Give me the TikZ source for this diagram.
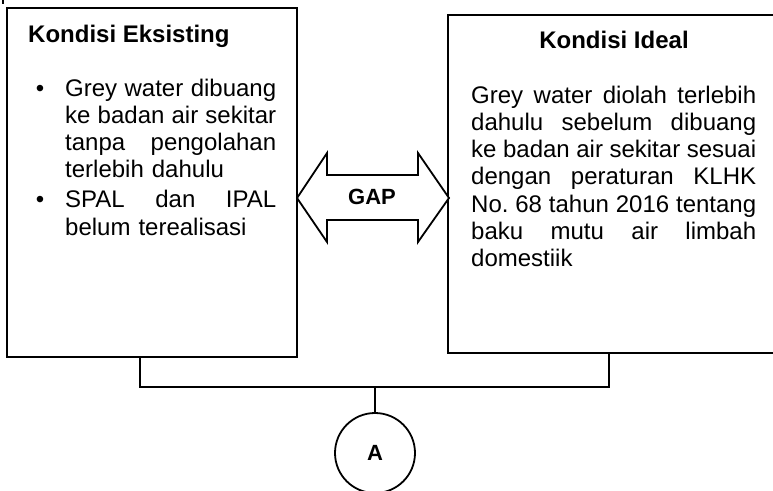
\documentclass[tikz,border=0pt]{standalone}
\usepackage{fontspec}
\setmainfont{Liberation Sans}
% justified single lines of fixed width (font interword glue restored)
\newcommand\jl[1]{\leavevmode\hbox to 211pt{\spaceskip=0pt\xspaceskip=0pt #1}}
\newcommand\jr[1]{\leavevmode\hbox to 285pt{\spaceskip=0pt\xspaceskip=0pt #1}}
\newcommand\bul{\leavevmode\llap{\textbullet\hspace{21pt}}}
\begin{document}
\begin{tikzpicture}[x=1pt,y=-1pt,
  frame/.style={draw,line width=1.8pt,rectangle,inner sep=0pt},
  body/.style={inner sep=0pt,align=left,font=\fontsize{24}{27.3}\selectfont},
  title/.style={inner sep=0pt,font=\fontsize{24}{28}\selectfont\bfseries},
  wire/.style={line width=1.8pt}]
\useasboundingbox (0,0) rectangle (773,490);

% small stroke at the top-left corner
\draw[wire] (3,0) -- (3,4);

% the two condition boxes
\node[frame,minimum width=290pt,minimum height=349pt] (ek) at (152,182.5) {};
\node[frame,minimum width=333pt,minimum height=338pt] (id) at (614.5,184) {};

\node[title,anchor=base west] (ekt) at (28,42) {Kondisi Eksisting};
\node[title,anchor=base] (idt) at (614,48) {Kondisi Ideal};

\node[body,anchor=base west,text width=212pt] (ekb) at (65,96) {%
\bul\jl{Grey water dibuang}\\
\jl{ke badan air sekitar}\\
\jl{tanpa pengolahan}\\
terlebih dahulu\\[2.5pt]
\bul\jl{SPAL dan IPAL}\\
belum terealisasi};

\node[body,anchor=base west,text width=286pt] (idb) at (471,103) {%
\jr{Grey water diolah terlebih}\\
\jr{dahulu sebelum dibuang}\\
\jr{ke badan air sekitar sesuai}\\
\jr{dengan peraturan KLHK}\\
\jr{No.\ 68 tahun 2016 tentang}\\
\jr{baku mutu air limbah}\\
domestiik};

% double-headed gap arrow
\draw[line width=1.8pt,line join=miter,fill=white]
  (297,198) -- (327,153) -- (327,175) -- (418,175) -- (418,153) -- (449,198)
  -- (418,242) -- (418,220) -- (327,220) -- (327,242) -- cycle;
\node[inner sep=0pt,anchor=base,font=\fontsize{22}{26}\selectfont\bfseries] (gap) at (372,204) {GAP};

% joining bracket and circle
\coordinate (jl) at (140,387);
\coordinate (jr) at (609,387);
\coordinate (jm) at (375,387);
\node[draw,circle,line width=1.8pt,minimum size=80pt,inner sep=0pt,
      font=\fontsize{22}{26}\selectfont\bfseries] (A) at (375,453) {A};
\draw[wire] (ek.south -| jl) -- (jl) -- (jr) -- (id.south -| jr);
\draw[wire] (jm) -- (A.north);
\end{tikzpicture}
\end{document}
